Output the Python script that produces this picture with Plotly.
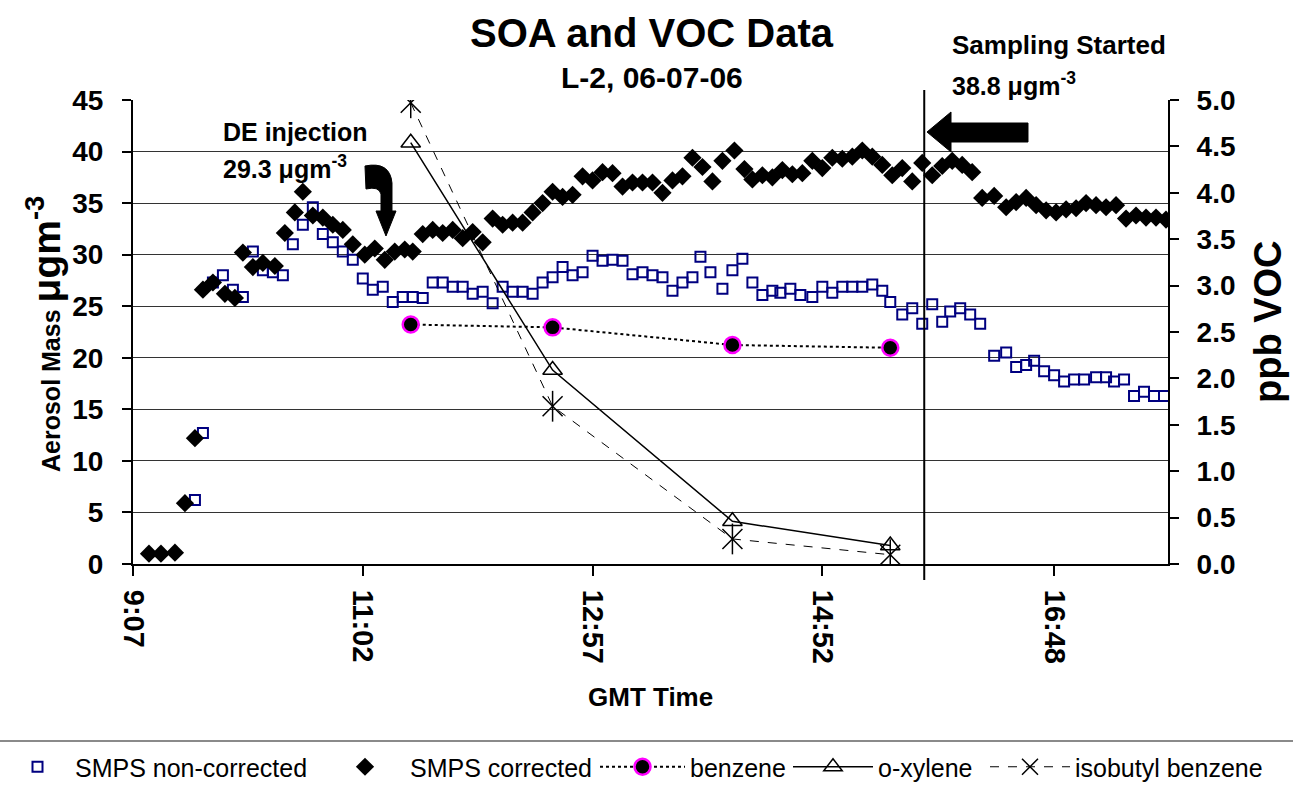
import plotly.graph_objects as go

# ---------------- data ----------------
smps_nc_time = ["9:38", "9:42", "9:47", "9:52", "9:57", "10:02", "10:07", "10:12", "10:17", "10:22",
                "10:27", "10:32", "10:37", "10:42", "10:47", "10:52", "10:57", "11:02", "11:07", "11:12",
                "11:17", "11:22", "11:27", "11:32", "11:37", "11:42", "11:47", "11:52", "11:57", "12:02",
                "12:07", "12:12", "12:17", "12:22", "12:27", "12:32", "12:37", "12:42", "12:47", "12:52",
                "12:57", "13:02", "13:07", "13:12", "13:17", "13:22", "13:27", "13:32", "13:37", "13:42",
                "13:47", "13:51", "13:56", "14:02", "14:07", "14:12", "14:17", "14:22", "14:27", "14:31",
                "14:36", "14:41", "14:47", "14:52", "14:57", "15:02", "15:07", "15:12", "15:17", "15:22",
                "15:26", "15:32", "15:37", "15:42", "15:47", "15:52", "15:56", "16:01", "16:06", "16:11",
                "16:18", "16:24", "16:29", "16:34", "16:38", "16:43", "16:48", "16:53", "16:58", "17:03",
                "17:09", "17:14", "17:18", "17:23", "17:28", "17:33", "17:38", "17:43"]
smps_nc = [6.2, 12.7, 27.3, 28.0, 26.6, 25.9, 30.3, 28.5, 28.3, 28.0,
           31.0, 32.9, 34.6, 32.0, 31.2, 30.3, 29.5, 27.7, 26.6, 26.9,
           25.4, 25.9, 25.9, 25.8, 27.3, 27.3, 26.9, 26.9, 26.2, 26.4,
           25.3, 26.9, 26.4, 26.4, 26.2, 27.3, 27.8, 28.8, 28.0, 28.3,
           29.9, 29.4, 29.5, 29.4, 28.1, 28.3, 28.0, 27.8, 26.5, 27.3,
           27.8, 29.8, 28.3, 26.7, 28.5, 29.6, 27.3, 26.1, 26.5, 26.3,
           26.7, 26.1, 25.9, 26.9, 26.3, 26.9, 26.9, 26.9, 27.1, 26.5,
           25.4, 24.2, 24.8, 23.3, 25.2, 23.5, 24.5, 24.8, 24.2, 23.3,
           20.2, 20.5, 19.1, 19.3, 19.7, 18.7, 18.3, 17.7, 17.9, 17.9,
           18.1, 18.1, 17.7, 17.9, 16.3, 16.7, 16.3, 16.3]

smps_c_time = ["9:15", "9:21", "9:28", "9:33", "9:38", "9:42", "9:47", "9:53", "9:58", "10:02",
               "10:07", "10:12", "10:18", "10:23", "10:28", "10:32", "10:37", "10:42", "10:47", "10:52",
               "10:57", "11:03", "11:08", "11:13", "11:18", "11:23", "11:27", "11:32", "11:37", "11:42",
               "11:47", "11:52", "11:57", "12:02", "12:07", "12:12", "12:17", "12:22", "12:27", "12:32",
               "12:37", "12:42", "12:47", "12:52", "12:57", "13:02", "13:07", "13:12", "13:17", "13:22",
               "13:27", "13:32", "13:37", "13:42", "13:47", "13:52", "13:57", "14:02", "14:08", "14:13",
               "14:17", "14:22", "14:27", "14:32", "14:37", "14:42", "14:47", "14:52", "14:57", "15:02",
               "15:07", "15:12", "15:17", "15:22", "15:27", "15:32", "15:37", "15:42", "15:47", "15:52",
               "15:57", "16:02", "16:07", "16:12", "16:18", "16:24", "16:29", "16:34", "16:39", "16:44",
               "16:49", "16:54", "16:59", "17:04", "17:09", "17:14", "17:19", "17:24", "17:29", "17:34",
               "17:39", "17:44"]
smps_c = [1.0, 1.0, 1.1, 5.9, 12.2, 26.6, 27.3, 26.2, 25.8, 30.2,
          28.8, 29.2, 28.9, 32.1, 34.1, 36.1, 33.8, 33.6, 32.9, 32.4,
          31.0, 30.0, 30.6, 29.5, 30.3, 30.5, 30.3, 32.0, 32.4, 32.1,
          32.4, 31.6, 32.2, 31.2, 33.5, 32.9, 33.1, 33.1, 34.1, 35.0,
          36.1, 35.6, 35.8, 37.6, 37.2, 38.0, 37.9, 36.6, 37.0, 37.0,
          37.0, 36.0, 37.2, 37.6, 39.4, 38.5, 37.1, 39.1, 40.1, 38.3,
          37.3, 37.7, 37.5, 38.2, 37.8, 37.9, 39.1, 38.4, 39.4, 39.3,
          39.5, 40.1, 39.5, 38.7, 37.7, 38.4, 37.1, 38.9, 37.7, 38.6,
          39.1, 38.7, 38.0, 35.5, 35.7, 34.6, 35.1, 35.5, 34.8, 34.3,
          34.1, 34.4, 34.5, 35.0, 34.8, 34.6, 34.8, 33.5, 33.8, 33.6,
          33.6, 33.4]

voc_time = ["11:26", "12:37", "14:07", "15:26"]
benzene = [2.58, 2.55, 2.36, 2.33]
o_xylene = [4.54, 2.09, 0.46, 0.20]
isobutyl_benzene = [4.97, 1.70, 0.27, 0.10]

x_tick_labels = ["9:07", "11:02", "12:57", "14:52", "16:48"]
sampling_start = "15:43"


def tmin(s):
    h, m = s.split(":")
    return int(h) * 60 + int(m)


# ---------------- geometry helpers (pixel -> paper) ----------------
W, H = 1293, 785
PL, PR, PT, PB = 133, 1168, 100, 564


def px(x):
    return (x - PL) / (PR - PL)


def py(y):
    return (PB - y) / (PB - PT)


FONT = "Liberation Sans, Arial, sans-serif"

fig = go.Figure()

fig.add_trace(go.Scatter(
    x=[tmin(t) for t in smps_nc_time], y=smps_nc, mode="markers", name="SMPS non-corrected",
    marker=dict(symbol="square-open", size=10, color="#000080", line=dict(width=2, color="#000080")),
    legend="legend"))
fig.add_trace(go.Scatter(
    x=[tmin(t) for t in smps_c_time], y=smps_c, mode="markers", name="SMPS corrected",
    marker=dict(symbol="diamond", size=14, color="black"),
    legend="legend2"))
fig.add_trace(go.Scatter(
    x=[tmin(t) for t in voc_time], y=benzene, mode="lines+markers", name="benzene", yaxis="y2",
    line=dict(color="black", width=2, dash="dot"),
    marker=dict(symbol="circle", size=16, color="black", line=dict(width=2.5, color="#FF00FF")),
    legend="legend3"))
fig.add_trace(go.Scatter(
    x=[tmin(t) for t in voc_time], y=o_xylene, mode="lines+markers", name="o-xylene", yaxis="y2",
    line=dict(color="black", width=1.5),
    marker=dict(symbol="triangle-up-open", size=17, color="black", line=dict(width=1.5, color="black")),
    legend="legend4"))
fig.add_trace(go.Scatter(
    x=[tmin(t) for t in voc_time], y=isobutyl_benzene, mode="lines+markers", name="isobutyl benzene",
    yaxis="y2",
    line=dict(color="black", width=1, dash="dash"),
    marker=dict(symbol="x-thin-open", size=20, color="black", line=dict(width=1.5, color="black")),
    legend="legend5"))
fig.add_trace(go.Scatter(
    x=[tmin(t) for t in voc_time], y=isobutyl_benzene, mode="markers", yaxis="y2", showlegend=False,
    marker=dict(symbol="line-ns-open", size=22, color="black", line=dict(width=1.5, color="black"))))

xtickfont = dict(family=FONT, size=29, color="black", weight="bold")
ytickfont = dict(family=FONT, size=28, color="black", weight="bold")

shapes = [
    # sampling started vertical line
    dict(type="line", xref="x", yref="paper", x0=tmin(sampling_start), x1=tmin(sampling_start),
         y0=py(580), y1=py(90), line=dict(color="black", width=2)),
    # legend separator
    dict(type="line", xref="paper", yref="paper", x0=px(0), x1=px(W), y0=py(741), y1=py(741),
         line=dict(color="#8a8a8a", width=2)),
]


def pathstr(cmds):
    out = []
    for c in cmds:
        if c[0] == "Z":
            out.append("Z")
        else:
            op, pts = c[0], c[1:]
            coords = " ".join(f"{px(pts[i]):.5f},{py(pts[i + 1]):.5f}" for i in range(0, len(pts), 2))
            out.append(op + coords)
    return " ".join(out)


# block arrow pointing left at the sampling line
arrow_left = pathstr([("M", 927, 132), ("L", 951, 112), ("L", 951, 123), ("L", 1028, 123), ("L", 1028, 142),
                      ("L", 951, 142), ("L", 951, 152), ("Z",)])
# curved arrow (DE injection)
arrow_curve = pathstr([("M", 365, 166), ("Q", 390, 161, 392, 183), ("L", 392, 211), ("L", 396, 211),
                       ("L", 386, 236), ("L", 376, 211), ("L", 381, 211), ("L", 381, 194),
                       ("Q", 379, 186, 366, 189), ("Z",)])
for p in (arrow_left, arrow_curve):
    shapes.append(dict(type="path", xref="paper", yref="paper", path=p,
                       fillcolor="black", line=dict(color="black", width=1)))

annotations = [
    dict(text="<b>SOA and VOC Data</b>", x=px(652), y=py(33), font=dict(size=40)),
    dict(text="<b>L-2, 06-07-06</b>", x=px(652), y=py(77), font=dict(size=30)),
    dict(text="<b>DE injection</b>", x=px(221), y=py(132), xanchor="left", font=dict(size=25)),
    dict(text="<b>29.3 μgm<sup>-3</sup></b>", x=px(221), y=py(167), xanchor="left", font=dict(size=25)),
    dict(text="<b>Sampling Started</b>", x=px(950), y=py(45), xanchor="left", font=dict(size=26)),
    dict(text="<b>38.8 μgm<sup>-3</sup></b>", x=px(950), y=py(84), xanchor="left", font=dict(size=25)),
    dict(text="<b>GMT Time</b>", x=px(650), y=py(697), font=dict(size=26)),
    dict(text="<b>Aerosol Mass <span style='font-size:39px'>μgm<sup>-3</sup></span></b>",
         x=px(43), y=py(334), textangle=-90, font=dict(size=25)),
    dict(text="<b>ppb VOC</b>", x=px(1268), y=py(322), textangle=-90, font=dict(size=38)),
]
for a in annotations:
    a.update(xref="paper", yref="paper", showarrow=False)
    a.setdefault("xanchor", "center")
    a["yanchor"] = "middle"
    a["font"].update(family=FONT, color="black")

legend_common = dict(orientation="h", xref="container", yref="container", xanchor="left",
                     yanchor="middle", y=1 - 767 / H, bgcolor="rgba(0,0,0,0)", itemwidth=80,
                     font=dict(family=FONT, size=25, color="black"))

fig.update_layout(
    width=W, height=H,
    margin=dict(l=PL, r=W - PR, t=PT, b=H - PB, autoexpand=False),
    paper_bgcolor="white", plot_bgcolor="white",
    font=dict(family=FONT, color="black"),
    xaxis=dict(range=[tmin(x_tick_labels[0]), 1065], tickmode="array",
               tickvals=[tmin(t) for t in x_tick_labels], ticktext=x_tick_labels,
               tickangle=90, tickfont=xtickfont, ticks="outside", ticklen=10, tickwidth=1.5,
               ticklabelstandoff=8,
               tickcolor="black", showline=True, linecolor="black", linewidth=2,
               showgrid=False, zeroline=False),
    yaxis=dict(range=[0, 45], dtick=5, tickfont=ytickfont, ticks="outside", ticklen=9, tickwidth=1.5,
               ticklabelstandoff=13,
               tickcolor="black", showline=True, linecolor="black", linewidth=2,
               showgrid=True, gridcolor="#333333", gridwidth=1, zeroline=False),
    yaxis2=dict(range=[0, 5], dtick=0.5, tickformat=".1f", overlaying="y", side="right",
                tickfont=ytickfont, ticks="outside", ticklen=9, tickwidth=1.5, tickcolor="black",
                ticklabelstandoff=12,
                showline=True, linecolor="black", linewidth=2, showgrid=False, zeroline=False),
    shapes=shapes,
    annotations=annotations,
    legend=dict(legend_common, x=0, itemwidth=65),
    legend2=dict(legend_common, x=320 / W),
    legend3=dict(legend_common, x=595 / W, itemwidth=85),
    legend4=dict(legend_common, x=788 / W),
    legend5=dict(legend_common, x=985 / W),
)

fig.write_html("out.html", config={"displayModeBar": False},
               post_script="document.body.style.margin='0px';")
